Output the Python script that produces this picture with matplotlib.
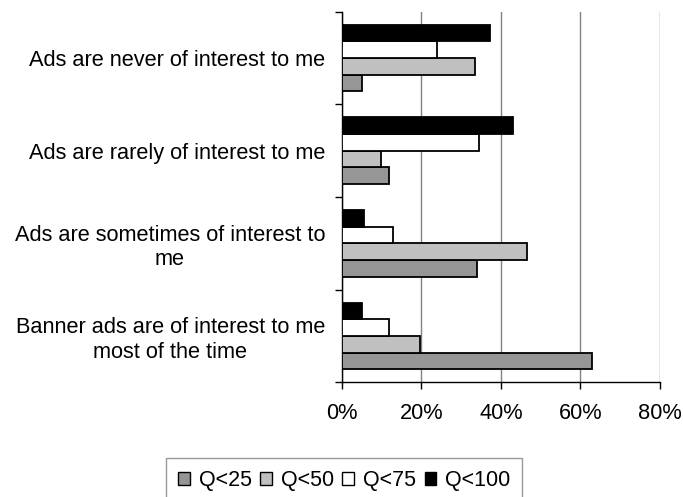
import numpy as np
import matplotlib
matplotlib.use('Agg')
import matplotlib.pyplot as plt
from matplotlib.ticker import FixedLocator, FuncFormatter

plt.rcParams['font.family'] = ['Liberation Sans', 'DejaVu Sans']

# categories listed top to bottom as in the chart
categories = ['Ads are never of interest to me',
              'Ads are rarely of interest to me',
              'Ads are sometimes of interest to\nme',
              'Banner ads are of interest to me\nmost of the time']
series = ['Q<25', 'Q<50', 'Q<75', 'Q<100']
q25 = [5.0, 12.0, 34.0, 63.0]
q50 = [33.6, 10.0, 46.5, 19.6]
q75 = [24.0, 34.6, 12.9, 12.0]
q100 = [37.2, 43.1, 5.7, 5.1]
xticks = [0, 20, 40, 60, 80]

colors = ['#969696', '#c0c0c0', '#ffffff', '#000000']
values = [q25, q50, q75, q100]

fig = plt.figure(figsize=(6.83, 4.97), dpi=100)
ax = fig.add_axes([0.5003, 0.2308, 0.466, 0.7457])

pos = np.arange(len(categories))
h = 0.18
for i, (name, vals, col) in enumerate(zip(series, values, colors)):
    off = (1.5 - i) * h
    ax.barh(pos + off, vals, height=h, color=col, edgecolor='black',
            linewidth=1.3, label=name, zorder=3)

ax.set_xlim(0, 80)
ax.set_ylim(len(categories) - 0.5, -0.5)
ax.set_xticks(xticks)
ax.xaxis.set_major_formatter(FuncFormatter(lambda v, p: '%d%%' % v))
ax.grid(axis='x', color='#808080', linewidth=1.0, zorder=0)

# tick marks at category boundaries, labels at centres
ax.yaxis.set_major_locator(FixedLocator(np.arange(len(categories) + 1) - 0.5))
ax.yaxis.set_major_formatter(FuncFormatter(lambda v, p: ''))
ax.yaxis.set_minor_locator(FixedLocator(pos))
ax.set_yticklabels(categories, minor=True, fontsize=15.7, multialignment='center')
ax.tick_params(axis='y', which='major', length=5, width=1, direction='out')
ax.tick_params(axis='y', which='minor', length=0, pad=12)
ax.tick_params(axis='x', length=5, width=1, direction='out', labelsize=15.7, pad=10)

for s in ['top', 'right']:
    ax.spines[s].set_visible(False)
for s in ['left', 'bottom']:
    ax.spines[s].set_linewidth(1.0)

leg = fig.legend(loc='upper center', bbox_to_anchor=(0.504, 1 - 458 / 497), ncol=4,
                 fontsize=15.5, frameon=True, fancybox=False, edgecolor='#808080',
                 handlelength=0.55, handleheight=0.55, handletextpad=0.4,
                 columnspacing=0.4, borderpad=0.55, borderaxespad=0)
leg.get_frame().set_linewidth(1.0)
for p in leg.get_patches():
    p.set_linewidth(1.0)

fig.savefig('out.png', dpi=100)
